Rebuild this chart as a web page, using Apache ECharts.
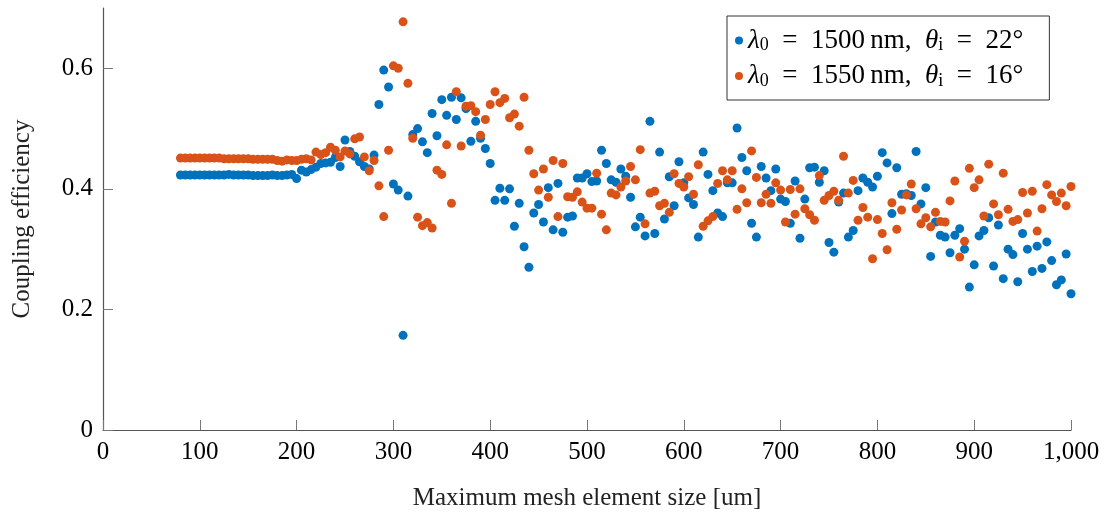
<!DOCTYPE html>
<html>
<head>
<meta charset="utf-8">
<script src="https://cdn.jsdelivr.net/npm/echarts@6/dist/echarts.min.js"></script>
<style>
  html, body { margin: 0; padding: 0; background: #fff; }
  #chart { width: 1108px; height: 516px; }
</style>
</head>
<body>
<div id="chart"></div>
<script>
// coupling efficiency vs max mesh element size, two wavelength/angle cases

const sizes = [
  80, 85, 90, 95, 100, 105, 110, 115, 120, 125,
  130, 135, 140, 145, 150, 155, 160, 165, 170, 175,
  180, 185, 190, 195, 200, 205, 210, 215, 220, 225,
  230, 235, 240, 245, 250, 255, 260, 265, 270, 275,
  280, 285, 290, 295, 300, 305, 310, 315, 320, 325,
  330, 335, 340, 345, 350, 355, 360, 365, 370, 375,
  380, 385, 390, 395, 400, 405, 410, 415, 420, 425,
  430, 435, 440, 445, 450, 455, 460, 465, 470, 475,
  480, 485, 490, 495, 500, 505, 510, 515, 520, 525,
  530, 535, 540, 545, 550, 555, 560, 565, 570, 575,
  580, 585, 590, 595, 600, 605, 610, 615, 620, 625,
  630, 635, 640, 645, 650, 655, 660, 665, 670, 675,
  680, 685, 690, 695, 700, 705, 710, 715, 720, 725,
  730, 735, 740, 745, 750, 755, 760, 765, 770, 775,
  780, 785, 790, 795, 800, 805, 810, 815, 820, 825,
  830, 835, 840, 845, 850, 855, 860, 865, 870, 875,
  880, 885, 890, 895, 900, 905, 910, 915, 920, 925,
  930, 935, 940, 945, 950, 955, 960, 965, 970, 975,
  980, 985, 990, 995, 1000
]

// λ0 = 1500 nm, θi = 22°
const eff1500 = [
  0.423, 0.423, 0.423, 0.423, 0.423, 0.423, 0.423, 0.423, 0.423, 0.423,
  0.424, 0.423, 0.423, 0.423, 0.423, 0.422, 0.422, 0.422, 0.422, 0.423,
  0.422, 0.422, 0.423, 0.424, 0.417, 0.431, 0.428, 0.432, 0.436, 0.442,
  0.443, 0.444, 0.452, 0.437, 0.481, 0.462, 0.454, 0.445, 0.437, 0.433,
  0.456, 0.540, 0.597, 0.569, 0.408, 0.398, 0.157, 0.388, 0.490, 0.500,
  0.478, 0.460, 0.525, 0.488, 0.548, 0.522, 0.552, 0.515, 0.551, 0.533,
  0.479, 0.512, 0.484, 0.467, 0.442, 0.381, 0.401, 0.381, 0.400, 0.338,
  0.376, 0.304, 0.270, 0.360, 0.374, 0.345, 0.402, 0.332, 0.409, 0.328,
  0.353, 0.355, 0.418, 0.418, 0.425, 0.412, 0.413, 0.464, 0.442, 0.415,
  0.411, 0.433, 0.421, 0.386, 0.337, 0.353, 0.322, 0.512, 0.326, 0.461,
  0.350, 0.420, 0.372, 0.445, 0.410, 0.385, 0.374, 0.320, 0.461, 0.424,
  0.397, 0.360, 0.354, 0.410, 0.410, 0.501, 0.452, 0.430, 0.343, 0.320,
  0.437, 0.418, 0.397, 0.433, 0.383, 0.379, 0.343, 0.413, 0.318, 0.383,
  0.435, 0.436, 0.411, 0.430, 0.311, 0.295, 0.378, 0.393, 0.320, 0.331,
  0.397, 0.418, 0.411, 0.403, 0.421, 0.460, 0.443, 0.359, 0.435, 0.391,
  0.392, 0.389, 0.462, 0.375, 0.402, 0.288, 0.345, 0.323, 0.320, 0.294,
  0.323, 0.334, 0.300, 0.237, 0.274, 0.322, 0.331, 0.352, 0.272, 0.340,
  0.251, 0.300, 0.291, 0.246, 0.326, 0.300, 0.263, 0.305, 0.268, 0.312,
  0.281, 0.241, 0.249, 0.292, 0.226
]

// λ0 = 1550 nm, θi = 16°
const eff1550 = [
  0.451, 0.451, 0.451, 0.451, 0.451, 0.451, 0.451, 0.451, 0.451, 0.450,
  0.450, 0.450, 0.450, 0.450, 0.450, 0.449, 0.449, 0.449, 0.449, 0.449,
  0.447, 0.446, 0.448, 0.447, 0.447, 0.449, 0.450, 0.448, 0.461, 0.457,
  0.460, 0.469, 0.464, 0.453, 0.463, 0.458, 0.483, 0.486, 0.453, 0.430,
  0.447, 0.405, 0.354, 0.464, 0.604, 0.600, 0.677, 0.575, 0.484, 0.353,
  0.339, 0.344, 0.335, 0.431, 0.424, 0.473, 0.376, 0.561, 0.471, 0.537,
  0.538, 0.528, 0.489, 0.515, 0.540, 0.561, 0.543, 0.550, 0.518, 0.524,
  0.504, 0.552, 0.464, 0.425, 0.398, 0.433, 0.386, 0.447, 0.354, 0.442,
  0.387, 0.386, 0.395, 0.378, 0.368, 0.368, 0.426, 0.358, 0.332, 0.393,
  0.390, 0.403, 0.413, 0.437, 0.415, 0.465, 0.342, 0.393, 0.396, 0.372,
  0.376, 0.361, 0.425, 0.409, 0.403, 0.420, 0.391, 0.440, 0.338, 0.347,
  0.354, 0.409, 0.430, 0.415, 0.430, 0.366, 0.400, 0.377, 0.463, 0.419,
  0.377, 0.391, 0.376, 0.410, 0.398, 0.345, 0.399, 0.358, 0.400, 0.367,
  0.357, 0.348, 0.422, 0.381, 0.389, 0.396, 0.381, 0.454, 0.393, 0.414,
  0.348, 0.369, 0.353, 0.284, 0.349, 0.326, 0.299, 0.377, 0.333, 0.365,
  0.390, 0.408, 0.367, 0.342, 0.352, 0.337, 0.361, 0.346, 0.345, 0.380,
  0.413, 0.287, 0.313, 0.434, 0.402, 0.415, 0.355, 0.441, 0.375, 0.357,
  0.426, 0.366, 0.346, 0.349, 0.394, 0.360, 0.396, 0.330, 0.367, 0.407,
  0.390, 0.379, 0.393, 0.372, 0.404
]

const xTicks = [0, 100, 200, 300, 400, 500, 600, 700, 800, 900, 1000]
const yTicks = [0, 0.2, 0.4, 0.6]

const seriesNames = ['1500', '1550']
// en spaces around "=" to mimic math spacing
const legendText = {
  '1500': '{it|λ}{sub|0}\u2002=\u20021500\u2009nm,\u2002{it|θ}{sub|i}\u2002=\u200222°',
  '1550': '{it|λ}{sub|0}\u2002=\u20021550\u2009nm,\u2002{it|θ}{sub|i}\u2002=\u200216°',
}
const colors = ['#0072BD', '#D95319']

const FONT = '"Liberation Serif", "DejaVu Serif", serif'

const chart = echarts.init(document.getElementById('chart'))

function pairs(ys) {
  return sizes.map((x, i) => [x, ys[i]])
}

const axisLine = { lineStyle: { color: '#555', width: 1.2 } }
const axisTick = { inside: true, length: 10, lineStyle: { color: '#777', width: 1 } }

chart.setOption({
  animation: false,
  backgroundColor: '#fff',
  color: colors,
  grid: { left: 103, right: 37, top: 8, bottom: 86 },
  legend: {
    data: seriesNames,
    orient: 'vertical',
    left: 727,
    top: 16,
    padding: [11, 26, 10, 8],
    itemGap: 8,
    itemWidth: 8,
    itemHeight: 8,
    icon: 'circle',
    borderColor: '#333',
    borderWidth: 1,
    backgroundColor: '#fff',
    formatter: (name) => legendText[name],
    textStyle: {
      fontFamily: FONT,
      fontSize: 27,
      color: '#000',
      rich: {
        it: { fontFamily: FONT, fontSize: 27, fontStyle: 'italic', color: '#000' },
        sub: { fontFamily: FONT, fontSize: 18, color: '#000', verticalAlign: 'bottom', padding: [10, 0, 0, 0] },
      },
    },
  },
  xAxis: {
    type: 'value',
    min: 0,
    max: 1000,
    interval: 100,
    name: 'Maximum mesh element size [um]',
    nameLocation: 'middle',
    nameGap: 56,
    nameTextStyle: { fontFamily: FONT, fontSize: 25, color: '#222', verticalAlign: 'top' },
    axisLine: axisLine,
    axisTick: Object.assign({ customValues: xTicks }, axisTick),
    axisLabel: {
      customValues: xTicks,
      fontFamily: FONT,
      fontSize: 25,
      color: '#000',
      margin: 10,
      formatter: (v) => v.toLocaleString('en-US'),
    },
    splitLine: { show: false },
  },
  yAxis: {
    type: 'value',
    min: 0,
    max: 0.7,
    name: 'Coupling efficiency',
    nameLocation: 'middle',
    nameGap: 68,
    nameRotate: 90,
    nameTextStyle: { fontFamily: FONT, fontSize: 25, color: '#222' },
    axisLine: Object.assign({ show: true }, axisLine),
    axisTick: Object.assign({ customValues: yTicks }, axisTick),
    axisLabel: {
      customValues: yTicks,
      fontFamily: FONT,
      fontSize: 25,
      color: '#000',
      margin: 10,
      formatter: (v) => String(v),
    },
    splitLine: { show: false },
  },
  series: [
    { name: '1500', type: 'scatter', data: pairs(eff1500), symbolSize: 9, itemStyle: { opacity: 1 } },
    { name: '1550', type: 'scatter', data: pairs(eff1550), symbolSize: 9, itemStyle: { opacity: 1 } },
  ],
})
</script>
</body>
</html>
